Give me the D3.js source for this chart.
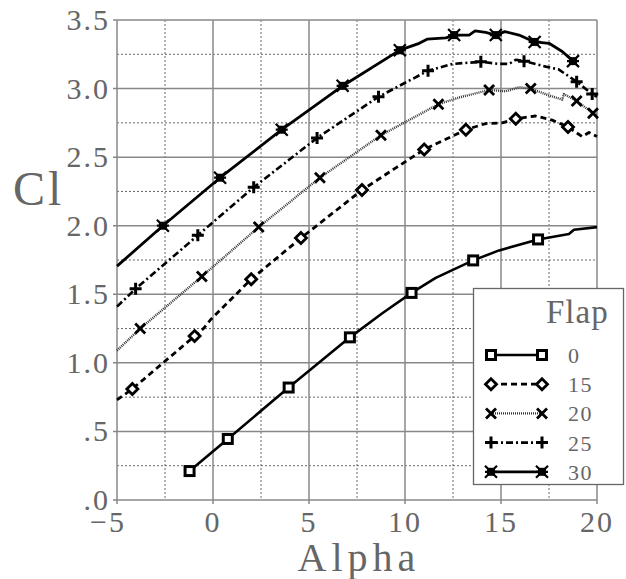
<!DOCTYPE html>
<html>
<head>
<meta charset="utf-8">
<script src="https://cdn.jsdelivr.net/npm/d3@7"></script>
<style>
  body { margin: 0; background: #fff; }
  text { font-family: "Liberation Serif", "DejaVu Serif", serif; fill: #666; }
</style>
</head>
<body>
<div id="chart"></div>
<script>
// Cl vs Alpha for several flap settings
var flaps = ["0", "15", "20", "25", "30"];

var curve0  = [[-1.22,0.211],[0.77,0.445],[3.94,0.82],[7.13,1.186],[8.8,1.36],[10.34,1.51],[11.6,1.62],[13.55,1.747],[14.9,1.82],[16.93,1.90],[18.54,1.94],[18.8,1.97],[20,1.99]];
var marks0  = [[-1.22,0.211],[0.77,0.445],[3.94,0.82],[7.13,1.186],[10.34,1.51],[13.55,1.747],[16.93,1.90]];

var curve15 = [[-5,0.73],[-4.2,0.81],[-0.96,1.195],[-0.5,1.25],[-0.09,1.32],[1.99,1.61],[4.58,1.91],[7.76,2.26],[9.5,2.42],[11.0,2.556],[13.17,2.70],[14.2,2.745],[15.07,2.75],[15.77,2.78],[16.8,2.80],[17.67,2.77],[18.49,2.72],[19.23,2.65],[19.58,2.68],[20,2.65]];
var marks15 = [[-4.2,0.81],[-0.96,1.195],[1.99,1.61],[4.58,1.91],[7.76,2.26],[11.0,2.556],[13.17,2.70],[15.77,2.78],[18.49,2.72]];

var curve20 = [[-5,1.09],[-3.79,1.25],[-0.58,1.63],[2.38,1.99],[5.57,2.35],[8.75,2.66],[11.74,2.886],[12.82,2.935],[14.38,2.99],[15.25,2.98],[15.94,3.01],[16.55,3.0],[17.5,2.95],[18.19,2.92],[18.28,2.96],[18.94,2.91],[19.79,2.82],[20,2.81]];
var marks20 = [[-3.79,1.25],[-0.58,1.63],[2.38,1.99],[5.57,2.35],[8.75,2.66],[11.74,2.886],[14.38,2.99],[16.55,3.0],[18.94,2.91],[19.79,2.82]];

var curve25 = [[-5,1.41],[-4.03,1.54],[-0.79,1.93],[2.12,2.28],[5.42,2.64],[8.62,2.94],[11.2,3.13],[12.47,3.18],[13.95,3.195],[14.9,3.18],[15.42,3.18],[15.77,3.21],[16.2,3.20],[17.33,3.16],[18.0,3.14],[18.94,3.05],[19.75,2.96],[20,2.94]];
var marks25 = [[-4.03,1.54],[-0.79,1.93],[2.12,2.28],[5.42,2.64],[8.62,2.94],[11.2,3.13],[13.95,3.195],[16.2,3.20],[18.94,3.05],[19.75,2.96]];

var curve30 = [[-5,1.705],[-2.61,2.0],[0.37,2.35],[3.58,2.70],[6.75,3.02],[7.1,3.05],[9.73,3.28],[10.74,3.33],[11.15,3.36],[12.13,3.37],[12.56,3.39],[13.34,3.39],[13.65,3.42],[14.2,3.41],[14.73,3.39],[15.2,3.415],[15.94,3.39],[16.75,3.34],[17.5,3.33],[18.19,3.27],[18.75,3.20]];
var marks30 = [[-2.61,2.0],[0.37,2.35],[3.58,2.70],[6.75,3.02],[9.73,3.28],[12.56,3.39],[14.73,3.39],[16.75,3.34],[18.75,3.20]];

var xMajor = [-5, 0, 5, 10, 15, 20];
var xMinor = [-2.5, 2.5, 7.5, 12.5, 17.5];
var yMajor = [0, 0.5, 1, 1.5, 2, 2.5, 3, 3.5];
var yMinor = [0.25, 0.75, 1.25, 1.75, 2.25, 2.75, 3.25];

var width   = 626,
    height  = 579,
    plotL   = 117,
    plotR   = 597,
    plotT   = 20,
    plotB   = 500;

var svg = d3.select("#chart").append("svg").attr("width", width).attr("height", height);

var x = d3.scaleLinear().domain([-5, 20]).range([plotL, plotR]);
var y = d3.scaleLinear().domain([0, 3.5]).range([plotB, plotT]);

// grid
var grid = svg.append("g");
grid.selectAll(".xmin").data(xMinor).enter().append("line")
  .attr("x1", x).attr("x2", x).attr("y1", plotT).attr("y2", plotB)
  .attr("stroke", "#666").attr("stroke-width", 1).attr("stroke-dasharray", "2,2");
grid.selectAll(".ymin").data(yMinor).enter().append("line")
  .attr("y1", y).attr("y2", y).attr("x1", plotL).attr("x2", plotR)
  .attr("stroke", "#666").attr("stroke-width", 1).attr("stroke-dasharray", "2,2");
grid.selectAll(".xmaj").data(xMajor).enter().append("line")
  .attr("x1", x).attr("x2", x).attr("y1", plotT).attr("y2", plotB + 4)
  .attr("stroke", "#888").attr("stroke-width", 1.5);
grid.selectAll(".ymaj").data(yMajor).enter().append("line")
  .attr("y1", y).attr("y2", y).attr("x1", plotL - 4).attr("x2", plotR)
  .attr("stroke", "#888").attr("stroke-width", 1.5);

// tick labels
svg.selectAll(".xl").data(xMajor).enter().append("text")
  .attr("x", function(d) { return x(d) + (d < 0 ? -9 : 0); })
  .attr("y", 532)
  .attr("text-anchor", "middle")
  .attr("font-size", 30).attr("letter-spacing", 2)
  .text(function(d) { return d < 0 ? "\u2212" + (-d) : d; });

svg.selectAll(".yl").data(yMajor).enter().append("text")
  .attr("x", 110)
  .attr("y", function(d) { return y(d) + 10; })
  .attr("text-anchor", "end")
  .attr("font-size", 30).attr("letter-spacing", 2)
  .text(function(d) { var s = d.toFixed(1); return d < 1 ? s.slice(1) : s; });

svg.append("text").attr("x", 13).attr("y", 205).attr("font-size", 48).attr("letter-spacing", 3).text("Cl");
svg.append("text").attr("x", 359).attr("y", 571).attr("text-anchor", "middle")
  .attr("font-size", 40).attr("letter-spacing", 5).text("Alpha");

// series
var line = d3.line().x(function(d) { return x(d[0]); }).y(function(d) { return y(d[1]); });

var series = [
  { name: flaps[0], curve: curve0,  marks: marks0,  dash: null,        sw: 2.6, color: "#000", marker: "square" },
  { name: flaps[1], curve: curve15, marks: marks15, dash: "6,4",       sw: 2.8, color: "#000", marker: "diamond" },
  { name: flaps[2], curve: curve20, marks: marks20, dash: "1,1",       sw: 2.4, color: "#333", marker: "cross" },
  { name: flaps[3], curve: curve25, marks: marks25, dash: "7,3,2,3",   sw: 2.6, color: "#000", marker: "plus" },
  { name: flaps[4], curve: curve30, marks: marks30, dash: null,        sw: 2.8, color: "#000", marker: "star" }
];

function drawMarker(g, type, cx, cy) {
  var m = g.append("g").attr("transform", "translate(" + cx + "," + cy + ")");
  if (type == "square") {
    m.append("rect").attr("x", -4.5).attr("y", -4.5).attr("width", 9).attr("height", 9)
      .attr("fill", "#fff").attr("stroke", "#000").attr("stroke-width", 3);
  } else if (type == "diamond") {
    m.append("path").attr("d", "M0,-5.5L5.5,0L0,5.5L-5.5,0Z")
      .attr("fill", "#fff").attr("stroke", "#000").attr("stroke-width", 2.8);
  } else if (type == "cross") {
    m.append("path").attr("d", "M-5,-5L5,5M-5,5L5,-5")
      .attr("stroke", "#000").attr("stroke-width", 2.8);
  } else if (type == "plus") {
    m.append("path").attr("d", "M-6,0L6,0M0,-6L0,6")
      .attr("stroke", "#000").attr("stroke-width", 3);
  } else {
    m.append("rect").attr("x", -4).attr("y", -4).attr("width", 8).attr("height", 8).attr("fill", "#000");
    m.append("path").attr("d", "M-6,-6L6,6M-6,6L6,-6M-6,0L6,0")
      .attr("stroke", "#000").attr("stroke-width", 2.2);
  }
}

var plot = svg.append("g");
series.forEach(function(s) {
  plot.append("path").datum(s.curve)
    .attr("d", line)
    .attr("fill", "none")
    .attr("stroke", s.color)
    .attr("stroke-width", s.sw)
    .attr("stroke-linejoin", "round")
    .attr("stroke-dasharray", s.dash);
  s.marks.forEach(function(p) { drawMarker(plot, s.marker, x(p[0]), y(p[1])); });
});

// legend
var lg = svg.append("g");
lg.append("rect").attr("x", 473.5).attr("y", 288.5).attr("width", 150).attr("height", 196)
  .attr("fill", "#fff").attr("stroke", "#666").attr("stroke-width", 1.3);
lg.append("text").attr("x", 546).attr("y", 323).attr("font-size", 33).attr("letter-spacing", 1).text("Flap");
series.forEach(function(s, i) {
  var ly = 355 + i * 29.2;
  lg.append("line").attr("x1", 491).attr("x2", 542).attr("y1", ly).attr("y2", ly)
    .attr("stroke", s.color).attr("stroke-width", s.sw).attr("stroke-dasharray", s.dash);
  drawMarker(lg, s.marker, 491, ly);
  drawMarker(lg, s.marker, 542, ly);
  lg.append("text").attr("x", 568).attr("y", ly + 8).attr("font-size", 22).attr("letter-spacing", 1.5).text(s.name);
});
</script>
</body>
</html>
